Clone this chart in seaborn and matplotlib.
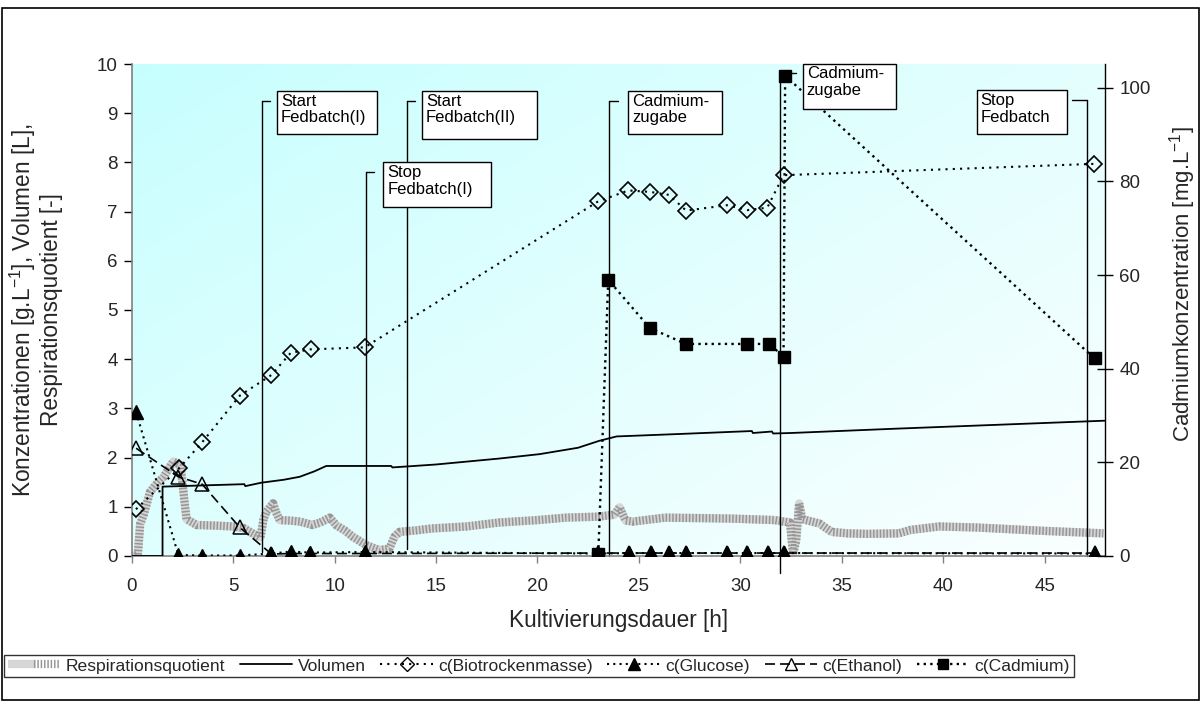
import numpy as np
import matplotlib
matplotlib.use("Agg")
import matplotlib.pyplot as plt
from matplotlib.lines import Line2D
from matplotlib.patches import Rectangle
from matplotlib.legend_handler import HandlerTuple
import seaborn as sns

sns.set_theme(style="white")
plt.rcParams["font.family"] = ["Liberation Sans", "DejaVu Sans"]
plt.rcParams["mathtext.fontset"] = "custom"
plt.rcParams["mathtext.rm"] = "Liberation Sans"
plt.rcParams["mathtext.it"] = "Liberation Sans:italic"
plt.rcParams["mathtext.bf"] = "Liberation Sans:bold"

# ---- measured series ------------------------------------------------------
rq_time = [0.0, 0.3, 0.42, 0.6, 0.9, 1.2, 1.56, 2.05, 2.4, 2.54, 2.7, 3.2, 4.0, 5.0, 5.5,
           6.0, 6.35, 6.5, 6.64, 6.97, 7.1, 7.3, 7.8, 8.3, 8.9, 9.3, 9.76, 10.1, 10.5,
           10.9, 11.56, 12.2, 12.7, 12.95, 13.2, 14.0, 14.8, 16.5, 18.1, 20.0, 21.4,
           23.0, 23.8, 24.05, 24.2, 24.35, 24.7, 26.3, 28.0, 29.6, 31.7, 32.45, 32.6,
           32.75, 32.9, 33.05, 33.9, 34.5, 35.3, 36.2, 37.8, 38.4, 39.8, 41.6, 45.0, 47.9]
rq_value = [0.0, 0.02, 0.65, 0.85, 1.3, 1.45, 1.6, 1.92, 1.85, 1.34, 0.75, 0.63, 0.62, 0.6,
            0.57, 0.45, 0.38, 0.75, 0.9, 1.07, 0.9, 0.73, 0.72, 0.7, 0.63, 0.68, 0.78, 0.62,
            0.52, 0.39, 0.22, 0.12, 0.15, 0.39, 0.49, 0.52, 0.56, 0.6, 0.68, 0.73, 0.78,
            0.8, 0.84, 0.99, 0.85, 0.72, 0.7, 0.78, 0.77, 0.76, 0.73, 0.68, 0.05, 0.3,
            1.07, 0.75, 0.66, 0.49, 0.46, 0.45, 0.46, 0.53, 0.6, 0.58, 0.51, 0.46]

vol_time = [0.0, 1.52, 1.52, 5.55, 5.6, 6.39, 7.5, 8.28, 9.0, 9.59, 12.79, 12.85, 15.0,
            18.1, 20.1, 22.0, 23.04, 23.9, 27.0, 30.57, 30.62, 31.56, 31.62, 32.5, 37.8, 47.95]
vol_value = [0.0, 0.0, 1.41, 1.46, 1.42, 1.49, 1.55, 1.61, 1.72, 1.83, 1.83, 1.8, 1.86,
             1.98, 2.07, 2.2, 2.34, 2.43, 2.48, 2.54, 2.5, 2.53, 2.49, 2.5, 2.59, 2.75]

btm_time = [0.21, 2.33, 3.47, 5.33, 6.89, 7.84, 8.82, 11.48, 23.0, 24.48, 25.56, 26.48,
            27.33, 29.35, 30.35, 31.33, 32.13, 47.42]
btm_value = [0.95, 1.78, 2.31, 3.26, 3.68, 4.13, 4.2, 4.24, 7.21, 7.43, 7.4, 7.34, 7.02,
             7.13, 7.03, 7.08, 7.74, 7.97]

sample_time = [0.22, 2.3, 3.47, 5.33, 6.89, 7.84, 8.8, 11.5, 23.0, 24.52, 25.58, 26.48,
               27.33, 29.35, 30.35, 31.36, 32.14, 47.46]
glc_value = [2.92, 0.02, 0.01, 0.01, 0.05, 0.09, 0.07, 0.08, 0.05, 0.06, 0.06, 0.06, 0.06,
             0.06, 0.06, 0.06, 0.06, 0.05]
eth_value = [2.19, 1.61, 1.46, 0.58, 0.04, 0.05, 0.05, 0.05, 0.06, 0.06, 0.06, 0.06, 0.06,
             0.06, 0.06, 0.06, 0.06, 0.06]

cd_time = [23.0, 23.49, 25.54, 27.31, 30.35, 31.43, 32.13, 32.21, 47.46]
cd_value = [0.4, 59.0, 48.7, 45.3, 45.3, 45.3, 42.6, 102.6, 42.2]

# process events (time in h)
event_labels = ["Start\nFedbatch(I)", "Stop\nFedbatch(I)", "Start\nFedbatch(II)",
                "Cadmium-\nzugabe", "Cadmium-\nzugabe", "Stop\nFedbatch"]
event_time = [6.4, 11.55, 13.55, 23.55, 31.95, 47.1]

x_ticks = [0, 5, 10, 15, 20, 25, 30, 35, 40, 45]
y_ticks = list(range(0, 11))
y2_ticks = [0, 20, 40, 60, 80, 100]

# callout geometry: line top / bottom, stub end, box (left, right, top, bottom)
ev_top = [9.25, 7.81, 9.25, 9.25, 9.82, 9.27]
ev_bottom = [0.09, 0.0, 0.15, 0.0, -0.35, 0.0]
ev_stub = [6.8, 11.95, 13.95, 23.95, 32.75, 46.35]
ev_box = [(7.16, 12.07, 9.46, 8.57), (12.40, 17.70, 8.01, 7.10), (14.30, 19.97, 9.46, 8.47),
          (24.46, 29.11, 9.46, 8.58), (33.07, 37.65, 10.01, 9.09), (41.65, 46.12, 9.47, 8.58)]

# ---- figure ---------------------------------------------------------------
fig = plt.figure(figsize=(12.01, 7.04), dpi=100)
fig.patch.set_facecolor("white")
ax = fig.add_axes([0.10966, 0.21023, 0.8108, 0.69886])
ax2 = ax.twinx()

# diagonal cyan-to-white gradient in the plot area
ny, nx = 200, 300
gx, gy = np.meshgrid(np.linspace(0, 1, nx), np.linspace(0, 1, ny))
t = np.clip(0.55 * gx + 0.45 * gy, 0, 1) ** 0.9
c0 = np.array([198, 254, 254]) / 255.0
c1 = np.array([250, 255, 255]) / 255.0
img = c0 + (c1 - c0) * t[..., None]
ax.imshow(img, extent=[0, 1, 0, 1], transform=ax.transAxes, aspect="auto",
          zorder=0, interpolation="bilinear")

# respiration quotient: wide stippled grey band
RQ_BASE = dict(color="#d6d6d6", linewidth=6.0, solid_capstyle="butt", solid_joinstyle="round")
RQ_DOTS = dict(color="#969696", linewidth=6.0, linestyle=(0, (0.18, 0.22)),
               dash_capstyle="butt")
sns.lineplot(x=rq_time, y=rq_value, ax=ax, estimator=None, sort=False, zorder=2, **RQ_BASE)
sns.lineplot(x=rq_time, y=rq_value, ax=ax, estimator=None, sort=False, zorder=2.1, **RQ_DOTS)

# volume
sns.lineplot(x=vol_time, y=vol_value, ax=ax, estimator=None, sort=False,
             color="black", linewidth=1.3, zorder=3)

# event markers (vertical lines with short stubs)
for tt, top, bot, stub in zip(event_time, ev_top, ev_bottom, ev_stub):
    ax.plot([tt, tt], [bot, top], color="black", linewidth=1.0, zorder=2.5, clip_on=False)
    ax.plot([tt, stub], [top, top], color="black", linewidth=1.0, zorder=2.5, clip_on=False)

# ethanol
sns.lineplot(x=sample_time, y=eth_value, ax=ax, estimator=None, sort=False,
             color="black", linewidth=1.2, linestyle=(0, (6, 3)),
             marker="^", markersize=10, markerfacecolor="none",
             markeredgecolor="black", markeredgewidth=1.1, zorder=4)
# glucose
sns.lineplot(x=sample_time, y=glc_value, ax=ax, estimator=None, sort=False,
             color="black", linewidth=1.5, linestyle=(0, (1, 2)),
             marker="^", markersize=10, markerfacecolor="black",
             markeredgecolor="black", markeredgewidth=1.0, zorder=5)
# dry biomass
sns.lineplot(x=btm_time, y=btm_value, ax=ax, estimator=None, sort=False,
             color="black", linewidth=1.5, linestyle=(0, (1, 2.5)),
             marker="D", markersize=8, markerfacecolor="none",
             markeredgecolor="black", markeredgewidth=1.2, zorder=6)

# cadmium on the secondary axis
sns.lineplot(x=cd_time, y=cd_value, ax=ax2, estimator=None, sort=False,
             color="black", linewidth=1.7, linestyle=(0, (1, 1.8)),
             marker="s", markersize=8, markerfacecolor="black",
             markeredgecolor="black", markeredgewidth=1.0, zorder=5)

# event text boxes
for lab, (x0, x1, y0, y1) in zip(event_labels, ev_box):
    ax2.add_patch(Rectangle((x0, y1), x1 - x0, y0 - y1, transform=ax.transData,
                            facecolor="white", edgecolor="black", linewidth=1.0,
                            zorder=9, clip_on=False))
    ax2.text(x0 + 0.2, y0 - 0.06, lab, transform=ax.transData, ha="left", va="top",
             fontsize=12, color="black", linespacing=1.15, zorder=10)

# ---- axes styling -----------------------------------------------------------
ax.set_xlim(0, 48)
ax.set_ylim(0, 10)
ax2.set_ylim(0, 105.1)
ax.set_xticks(x_ticks)
ax.set_yticks(y_ticks)
ax2.set_yticks(y2_ticks)
ax.set_xticklabels([str(v) for v in x_ticks])
ax.set_yticklabels([str(v) for v in y_ticks])
ax2.set_yticklabels([str(v) for v in y2_ticks])

for a in (ax, ax2):
    a.grid(False)
    a.spines["top"].set_visible(False)
ax2.patch.set_visible(False)
ax.spines["right"].set_visible(False)
ax2.spines["left"].set_visible(False)
ax2.spines["bottom"].set_visible(False)
ax.spines["left"].set_color("#808080")
ax.spines["bottom"].set_color("#808080")
ax2.spines["right"].set_color("black")
for s in ("left", "bottom"):
    ax.spines[s].set_linewidth(1.2)
ax2.spines["right"].set_linewidth(1.0)

ax.tick_params(axis="y", direction="out", length=6, width=1, color="black",
               labelsize=13.5, pad=4, left=True)
ax.tick_params(axis="x", direction="out", length=5, width=1, color="#808080",
               labelsize=13.5, pad=11, bottom=True)
ax2.tick_params(axis="y", direction="inout", length=12, width=1, color="black",
                labelsize=13.5, pad=4, right=True)

ax.set_xlabel("Kultivierungsdauer [h]", fontsize=16.3)
ax.xaxis.set_label_coords(0.5, -0.108)
ax.set_ylabel("Konzentrationen [g.L$^{\\mathrm{-1}}$], Volumen [L],\nRespirationsquotient [-]",
              fontsize=16.3, linespacing=1.1)
ax.yaxis.set_label_coords(-0.071, 0.5)
ax2.set_ylabel("Cadmiumkonzentration [mg.L$^{\\mathrm{-1}}$]", fontsize=16)
ax2.yaxis.set_label_coords(1.0635, 0.553)

# ---- legend -----------------------------------------------------------------
h_rq = (Line2D([], [], **RQ_BASE), Line2D([], [], **RQ_DOTS))
h_vol = Line2D([], [], color="black", linewidth=1.3)
h_btm = Line2D([], [], color="black", linewidth=1.5, linestyle=(0, (1, 2.5)), marker="D",
               markersize=7, markerfacecolor="none", markeredgecolor="black")
h_glc = Line2D([], [], color="black", linewidth=1.5, linestyle=(0, (1, 2)), marker="^",
               markersize=8, markerfacecolor="black", markeredgecolor="black")
h_eth = Line2D([], [], color="black", linewidth=1.2, linestyle=(0, (6, 3)), marker="^",
               markersize=9, markerfacecolor="none", markeredgecolor="black")
h_cd = Line2D([], [], color="black", linewidth=1.7, linestyle=(0, (1, 1.8)), marker="s",
              markersize=7, markerfacecolor="black", markeredgecolor="black")
leg_labels = ["Respirationsquotient", "Volumen", "c(Biotrockenmasse)", "c(Glucose)",
              "c(Ethanol)", "c(Cadmium)"]
leg = fig.legend([h_rq, h_vol, h_btm, h_glc, h_eth, h_cd], leg_labels,
                 loc="center", bbox_to_anchor=(0.4488, 0.054), ncol=6, frameon=True,
                 fancybox=False, edgecolor="black", fontsize=12.6, handlelength=3.0,
                 columnspacing=0.84, handletextpad=0.3, borderpad=0.2,
                 handler_map={tuple: HandlerTuple(ndivide=None, pad=0)})
leg.get_frame().set_linewidth(1.0)
leg.get_frame().set_facecolor("white")

# outer frame
fig.patches.append(Rectangle((0.0015, 0.006), 0.997, 0.9826, transform=fig.transFigure,
                             fill=False, edgecolor="black", linewidth=1.2))

fig.savefig("out.png", dpi=100)
